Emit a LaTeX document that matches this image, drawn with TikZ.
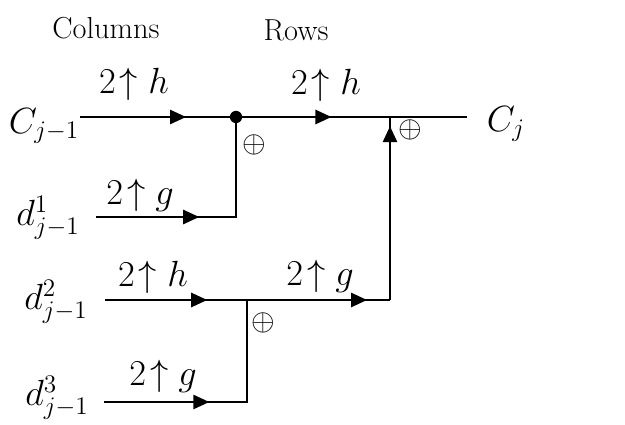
\documentclass[tikz,border=0pt]{standalone}
\usepackage{amsmath,amssymb}
\usepackage{tikz}
\usetikzlibrary{arrows.meta,decorations.markings}

\tikzset{
  wire/.style={line width=1.5pt},
  midtip/.style={postaction={decorate},
    decoration={markings,mark=at position #1 with {\arrow{Triangle[length=3.2mm,width=2.8mm]}}}},
  filterlbl/.style={font=\huge},
  sumsign/.style={font=\LARGE},
}

\begin{document}
\begin{tikzpicture}[x=0.02cm,y=-0.02cm]
\useasboundingbox (0,0) rectangle (625,425);
\begin{scope}
% headings
\node (colhead) at (106,28) {\LARGE Columns};
\node (rowhead) at (296,30) {\LARGE Rows};
% signal labels
\node (cprev) at (44,126) {\huge $C_{j-1}$};
\node (cnext) at (506,124) {\huge $C_{j}$};
\node (d1) at (48,218) {\huge $d^{1}_{j-1}$};
\node (d2) at (56,302) {\huge $d^{2}_{j-1}$};
\node (d3) at (57,398) {\huge $d^{3}_{j-1}$};
% wire points
\coordinate (cin) at (80,117);
\coordinate (dot) at (236,117);
\coordinate (join) at (390,117);
\coordinate (cout) at (467,117);
\coordinate (d1in) at (96,217);
\coordinate (d1end) at (236,217);
\coordinate (d2in) at (105,300);
\coordinate (mid) at (247,300);
\coordinate (d2end) at (390,300);
\coordinate (d3in) at (104,402);
\coordinate (d3end) at (247,402);
% top row
\draw[wire,midtip=0.68] (cin) -- (dot);
\draw[wire,midtip=0.62] (dot) -- (join);
\draw[wire] (join) -- (cout);
\fill (dot) circle[radius=3.5pt];
\draw[wire,midtip=0.43] (d1in) -- (d1end) -- (dot);
% lower rows
\draw[wire,midtip=0.72] (d2in) -- (mid);
\draw[wire,midtip=0.84] (mid) -- (d2end);
\draw[wire,midtip=0.95] (d2end) -- (join);
\draw[wire,midtip=0.43] (d3in) -- (d3end) -- (mid);
% filters
\node[filterlbl] (f1) at (134,84) {$2\!\uparrow h$};
\node[filterlbl] (f2) at (326,85) {$2\!\uparrow h$};
\node[filterlbl] (f3) at (140,195) {$2\!\uparrow g$};
\node[filterlbl] (f4) at (153,277) {$2\!\uparrow h$};
\node[filterlbl] (f5) at (320,276) {$2\!\uparrow g$};
\node[filterlbl] (f6) at (163,376) {$2\!\uparrow g$};
% adders
\node[sumsign] (s1) at (254,145) {$\oplus$};
\node[sumsign] (s2) at (410,130) {$\oplus$};
\node[sumsign] (s3) at (263,323) {$\oplus$};
\end{scope}
\end{tikzpicture}
\end{document}
